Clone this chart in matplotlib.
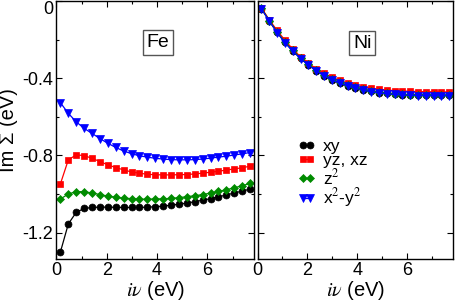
import numpy as np
import matplotlib
matplotlib.use('Agg')
import matplotlib.pyplot as plt
from matplotlib.ticker import MultipleLocator

plt.rcParams.update({
    'font.family': 'sans-serif',
    'font.sans-serif': ['Liberation Sans', 'DejaVu Sans'],
    'mathtext.fontset': 'stix',
    'font.size': 13,
    'xtick.direction': 'in',
    'ytick.direction': 'in',
    'xtick.top': True,
    'ytick.right': True,
    'xtick.major.size': 4,
    'ytick.major.size': 4,
    'xtick.minor.size': 2.5,
    'ytick.minor.size': 2.5,
    'xtick.major.width': 0.8,
    'ytick.major.width': 0.8,
    'xtick.minor.width': 0.8,
    'ytick.minor.width': 0.8,
    'axes.linewidth': 1.0,
})

# Matsubara frequencies (eV)
nu = [0.157, 0.471, 0.785, 1.100, 1.414, 1.728, 2.042, 2.356, 2.670, 2.985,
      3.299, 3.613, 3.927, 4.241, 4.555, 4.869, 5.184, 5.498, 5.812, 6.126,
      6.440, 6.754, 7.069, 7.383, 7.697]

labels = ['xy', 'yz, xz', r'z$^2$', r'x$^2$-y$^2$']

fe_xy = [-1.300, -1.155, -1.095, -1.075, -1.070, -1.068, -1.068, -1.069, -1.070, -1.070,
         -1.070, -1.068, -1.066, -1.063, -1.058, -1.053, -1.047, -1.040, -1.032, -1.024,
         -1.015, -1.005, -0.995, -0.985, -0.975]
fe_yz = [-0.947, -0.823, -0.797, -0.801, -0.815, -0.832, -0.849, -0.863, -0.875, -0.886,
         -0.892, -0.898, -0.900, -0.901, -0.901, -0.900, -0.899, -0.896, -0.892, -0.887,
         -0.882, -0.876, -0.870, -0.864, -0.856]
fe_z2 = [-1.026, -1.000, -0.988, -0.988, -0.995, -1.003, -1.011, -1.017, -1.022, -1.024,
         -1.027, -1.027, -1.026, -1.025, -1.023, -1.019, -1.014, -1.009, -1.003, -0.995,
         -0.987, -0.978, -0.968, -0.957, -0.945]
fe_x2y2 = [-0.527, -0.582, -0.626, -0.660, -0.686, -0.713, -0.737, -0.759, -0.777, -0.791,
           -0.802, -0.809, -0.815, -0.819, -0.822, -0.823, -0.823, -0.822, -0.819, -0.814,
           -0.809, -0.804, -0.798, -0.792, -0.785]

ni_xy = [-0.039, -0.103, -0.162, -0.214, -0.258, -0.297, -0.330, -0.360, -0.386, -0.407,
         -0.424, -0.438, -0.450, -0.460, -0.468, -0.474, -0.479, -0.482, -0.485, -0.487,
         -0.488, -0.488, -0.489, -0.489, -0.489]
ni_yz = [-0.035, -0.097, -0.152, -0.203, -0.249, -0.289, -0.322, -0.351, -0.375, -0.395,
         -0.411, -0.425, -0.436, -0.445, -0.452, -0.457, -0.461, -0.464, -0.466, -0.468,
         -0.469, -0.470, -0.470, -0.471, -0.471]
ni_z2 = [-0.038, -0.101, -0.160, -0.212, -0.256, -0.295, -0.328, -0.358, -0.384, -0.405,
         -0.422, -0.436, -0.448, -0.458, -0.466, -0.472, -0.477, -0.480, -0.483, -0.485,
         -0.486, -0.486, -0.487, -0.487, -0.487]
ni_x2y2 = [-0.040, -0.104, -0.163, -0.216, -0.260, -0.298, -0.332, -0.362, -0.388, -0.409,
           -0.426, -0.440, -0.452, -0.462, -0.470, -0.476, -0.481, -0.484, -0.487, -0.489,
           -0.490, -0.490, -0.491, -0.491, -0.491]

styles = [('black', 'o', 5.0), ('#ff0000', 's', 4.6), ('#008b00', 'D', 4.0), ('#0000ff', 'v', 5.6)]

fig = plt.figure(figsize=(4.57, 3.01), dpi=100)
ax1 = fig.add_axes([0.1236, 0.1395, 0.432, 0.857])
ax2 = fig.add_axes([0.5635, 0.1395, 0.428, 0.857])

for ax, series in [(ax1, [fe_xy, fe_yz, fe_z2, fe_x2y2]), (ax2, [ni_xy, ni_yz, ni_z2, ni_x2y2])]:
    for ys, (c, m, ms), lab in zip(series, styles, labels):
        ax.plot(nu, ys, '-', color=c, marker=m, markersize=ms, lw=0.9,
                markeredgewidth=0.5, label=lab)
    ax.set_xlim(0, 7.85)
    ax.set_ylim(-1.337, 0.0)
    ax.xaxis.set_major_locator(MultipleLocator(2))
    ax.xaxis.set_minor_locator(MultipleLocator(1))
    ax.yaxis.set_major_locator(MultipleLocator(0.4))
    ax.yaxis.set_minor_locator(MultipleLocator(0.2))
    ax.set_xlabel(r'$i\nu$ (eV)', fontsize=14.5, labelpad=0)
    ax.tick_params(which='both', pad=2.5, labelsize=13)

ax1.set_yticks([0, -0.4, -0.8, -1.2])
ax1.set_yticklabels(['0', '-0.4', '-0.8', '-1.2'])
ax1.get_yticklabels()[0].set_verticalalignment('top')
ax1.set_ylabel('Im Σ (eV)', fontsize=14.5, labelpad=3)
ax2.set_yticks([0, -0.4, -0.8, -1.2])
ax2.set_yticklabels([])

box = dict(boxstyle='square,pad=0.2', facecolor='white', edgecolor='#555555', lw=1)
ax1.text(0.514, 0.839, 'Fe', transform=ax1.transAxes, ha='center', va='center',
         fontsize=14, bbox=box)
ax2.text(0.535, 0.837, 'Ni', transform=ax2.transAxes, ha='center', va='center',
         fontsize=14, bbox=box)

ax2.legend(loc='center left', bbox_to_anchor=(0.16, 0.33), frameon=False,
           numpoints=2, handlelength=1.0, handletextpad=0.45, borderpad=0,
           labelspacing=-0.05, fontsize=12.5)

fig.savefig('out.png', dpi=100)
